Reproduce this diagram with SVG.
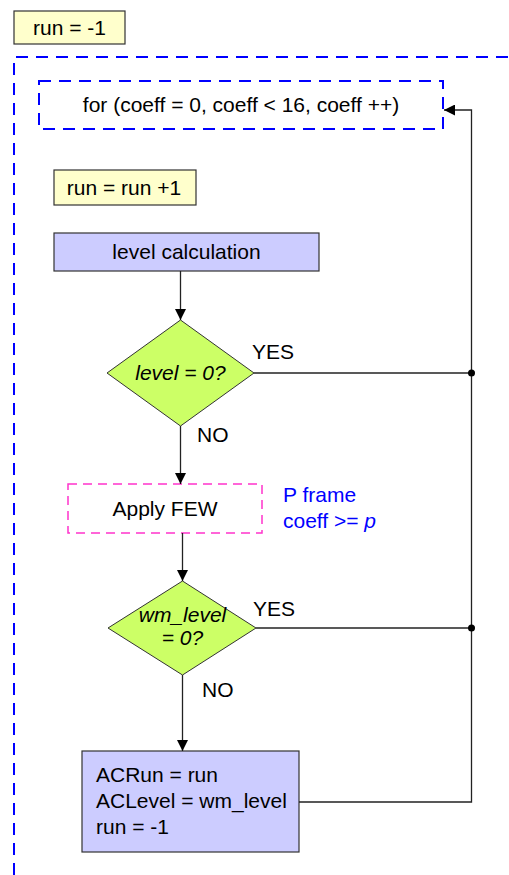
<svg xmlns="http://www.w3.org/2000/svg" width="509" height="875" viewBox="0 0 509 875">
<style>
text{font-family:"Liberation Sans",Arial,sans-serif;font-size:21px;fill:#000}
.c{text-anchor:middle}
.i{font-style:italic}
.yel{fill:#ffffcc;stroke:#333;stroke-width:1.2}
.blu{fill:#ccccff;stroke:#333;stroke-width:1.2}
.grn{fill:#ccff66;stroke:#333;stroke-width:1}
.dash{fill:none;stroke:#0000ff;stroke-width:2;stroke-dasharray:12,8}
.pink{fill:#fff;stroke:#ff33cc;stroke-width:1.5;stroke-dasharray:9,6}
.ln{fill:none;stroke:#222;stroke-width:1.3}
.bt{fill:#0000ff}
</style>
<defs>
<marker id="ah" viewBox="0 0 10 10" refX="10" refY="5" markerWidth="11" markerHeight="11" markerUnits="userSpaceOnUse" orient="auto">
<path d="M0,0 L10,5 L0,10 z" fill="#000"/>
</marker>
</defs>
<g id="outer-loop"><path class="dash" d="M14,875 V57 H509"/></g>
<g id="init"><rect class="yel" x="14" y="11" width="111" height="33"/><text x="69.5" y="35" class="c">run = -1</text></g>
<g id="for-loop"><rect class="dash" x="39" y="81" width="404" height="48"/><text x="241" y="112" class="c">for (coeff = 0, coeff &lt; 16, coeff ++)</text></g>
<g id="run-inc"><rect class="yel" x="54" y="170" width="142" height="35"/><text x="124" y="195" class="c">run = run +1</text></g>
<g id="level-calc"><rect class="blu" x="54" y="233" width="265" height="38"/><text x="186.5" y="259" class="c">level calculation</text></g>
<g id="dec1"><polygon class="grn" points="180.5,320 254,373 180.5,426 107,373"/><text x="180.5" y="380" class="c i">level = 0?</text></g>
<g id="apply-few"><rect class="pink" x="68" y="484" width="194" height="49"/><text x="165" y="516" class="c">Apply FEW</text></g>
<g id="pframe-note"><text x="283" y="502" class="bt">P frame</text><text x="283" y="528" class="bt">coeff &gt;= <tspan class="i">p</tspan></text></g>
<g id="dec2"><polygon class="grn" points="182.5,581 256,628 182.5,675 108,628"/><text x="182.5" y="622" class="c i">wm_level</text><text x="182.5" y="645" class="c i">= 0?</text></g>
<g id="assign"><rect class="blu" x="82" y="751" width="217" height="101"/><text x="96" y="782">ACRun = run</text><text x="96" y="808">ACLevel = wm_level</text><text x="96" y="834">run = -1</text></g>
<g id="connectors">
<path class="ln" d="M180.5,271 V320" marker-end="url(#ah)"/>
<path class="ln" d="M254,373 H471.5"/>
<path class="ln" d="M180.5,426 V484" marker-end="url(#ah)"/>
<path class="ln" d="M182.5,533 V581" marker-end="url(#ah)"/>
<path class="ln" d="M256,628 H471.5"/>
<path class="ln" d="M182.5,675 V751" marker-end="url(#ah)"/>
<path class="ln" d="M299,802 H471.5 V110 H444" marker-end="url(#ah)"/>
<circle cx="471.5" cy="373" r="3.5" fill="#000"/>
<circle cx="471.5" cy="628" r="3.5" fill="#000"/>
<text x="252" y="359">YES</text>
<text x="197" y="442">NO</text>
<text x="253" y="616">YES</text>
<text x="202" y="697">NO</text>
</g>
</svg>
